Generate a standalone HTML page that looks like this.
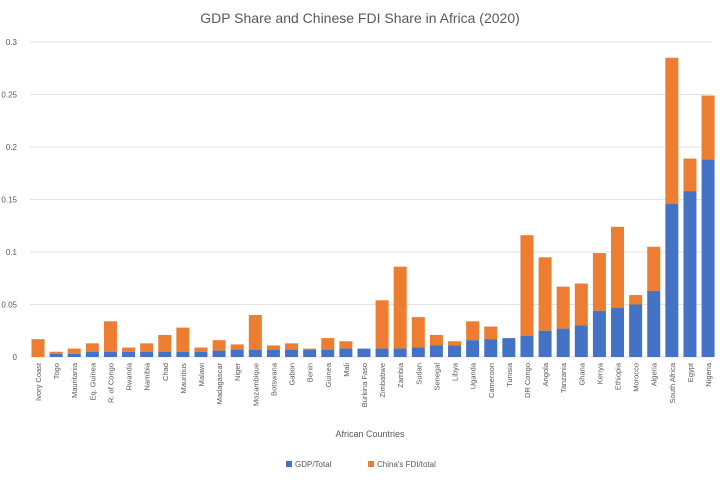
<!DOCTYPE html>
<html><head><meta charset="utf-8"><style>
html,body{margin:0;padding:0;background:#fff;}
svg{display:block;font-family:"Liberation Sans",sans-serif;}
</style></head><body>
<svg id="c" width="720" height="480" xmlns="http://www.w3.org/2000/svg">
<rect width="720" height="480" fill="#fff"/>
<text x="360" y="23" text-anchor="middle" font-size="14" fill="#595959">GDP Share and Chinese FDI Share in Africa (2020)</text>
<text x="370" y="437" text-anchor="middle" font-size="9" fill="#595959">African Countries</text>
<rect x="286" y="461" width="6" height="6" fill="#4472c4"/>
<text x="295" y="467" font-size="8" fill="#595959">GDP/Total</text>
<rect x="368" y="461" width="6" height="6" fill="#ed7d31"/>
<text x="377" y="467" font-size="8" fill="#595959">China's FDI/total</text>
<g id="g"></g>
</svg>
<script>
var d=[["Ivory Coast",.017,0],["Togo",.005,.003],["Mauritania",.008,.003],["Eq. Guinea",.013,.005],["R. of Congo",.034,.005],["Rwanda",.009,.005],["Namibia",.013,.005],["Chad",.021,.005],["Mauritius",.028,.005],["Malawi",.009,.005],["Madagascar",.016,.006],["Niger",.012,.007],["Mozambique",.040,.007],["Botswana",.011,.007],["Gabon",.013,.007],["Benin",.008,.007],["Guinea",.018,.007],["Mali",.015,.008],["Burkina Faso",.008,.008],["Zimbabwe",.054,.008],["Zambia",.086,.008],["Sudan",.038,.009],["Senegal",.021,.011],["Libya",.015,.011],["Uganda",.034,.016],["Cameroon",.029,.017],["Tunisia",.018,.018],["DR Congo",.116,.020],["Angola",.095,.025],["Tanzania",.067,.027],["Ghana",.070,.030],["Kenya",.099,.044],["Ethiopia",.124,.047],["Morocco",.059,.050],["Algeria",.105,.063],["South Africa",.285,.146],["Egypt",.189,.158],["Nigeria",.249,.188]];
var y0=357,k=1050,s="";
for(var i=0;i<=6;i++){var v=i*0.05,y=y0-v*k;s+='<line x1="30" x2="712" y1="'+y+'" y2="'+y+'" stroke="#e3e3e3" stroke-width="1"/>';s+='<text x="17" y="'+(y+3)+'" text-anchor="end" font-size="8" fill="#595959">'+(i==0?"0":String(+v.toFixed(2)))+'</text>';}
d.forEach(function(r,i){var cx=38+i*18.11,w=13,x=cx-w/2;var hg=r[2]*k,ht=r[1]*k;
s+='<rect x="'+x+'" y="'+(y0-ht)+'" width="'+w+'" height="'+(ht-hg)+'" fill="#ed7d31"/>';
s+='<rect x="'+x+'" y="'+(y0-hg)+'" width="'+w+'" height="'+hg+'" fill="#4472c4"/>';
s+='<text transform="translate('+(cx+3)+',363) rotate(-90)" text-anchor="end" font-size="7.5" fill="#595959">'+r[0]+'</text>';});
document.getElementById("g").innerHTML=s;
</script>
</body></html>
